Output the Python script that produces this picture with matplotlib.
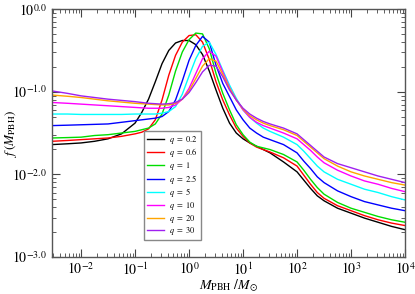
import matplotlib
matplotlib.use('Agg')
import matplotlib.pyplot as plt
import numpy as np

plt.rcParams['mathtext.fontset'] = 'stix'
plt.rcParams['font.family'] = ['STIXGeneral', 'DejaVu Serif']

# log10(M_PBH / M_sun) sample points
log_m = [-2.54, -2.25, -2.0, -1.75, -1.5, -1.25, -1.0, -0.875, -0.75, -0.625,
         -0.5, -0.375, -0.25, -0.125, 0.0, 0.125, 0.25, 0.375, 0.5, 0.625,
         0.75, 0.875, 1.0, 1.125, 1.25, 1.375, 1.5, 1.75, 2.0, 2.125,
         2.25, 2.375, 2.5, 2.75, 3.0, 3.25, 3.5, 3.75, 4.0]

# log10 f(M_PBH) for each q
f_q02 = [-1.64, -1.63, -1.62, -1.60, -1.57, -1.51, -1.38, -1.25, -1.09, -0.88,
         -0.66, -0.50, -0.41, -0.38, -0.38, -0.43, -0.55, -0.75, -0.98, -1.20,
         -1.38, -1.50, -1.57, -1.62, -1.66, -1.70, -1.74, -1.85, -1.97, -2.07,
         -2.17, -2.26, -2.32, -2.41, -2.47, -2.53, -2.58, -2.63, -2.67]
f_q06 = [-1.60, -1.59, -1.58, -1.57, -1.56, -1.54, -1.51, -1.49, -1.45, -1.34,
         -1.10, -0.80, -0.56, -0.40, -0.32, -0.31, -0.40, -0.61, -0.88, -1.10,
         -1.28, -1.44, -1.54, -1.62, -1.67, -1.70, -1.73, -1.80, -1.90, -2.01,
         -2.12, -2.22, -2.29, -2.38, -2.44, -2.50, -2.55, -2.59, -2.62]
f_q1 = [-1.56, -1.555, -1.55, -1.53, -1.52, -1.50, -1.48, -1.46, -1.44, -1.39,
        -1.27, -1.04, -0.75, -0.52, -0.37, -0.29, -0.30, -0.48, -0.78, -1.02,
        -1.22, -1.40, -1.52, -1.61, -1.66, -1.68, -1.70, -1.76, -1.85, -1.95,
        -2.06, -2.16, -2.24, -2.34, -2.41, -2.46, -2.51, -2.55, -2.58]
f_q25 = [-1.41, -1.405, -1.40, -1.395, -1.39, -1.37, -1.35, -1.34, -1.33, -1.32,
         -1.30, -1.24, -1.10, -0.87, -0.62, -0.44, -0.33, -0.40, -0.68, -0.90,
         -1.06, -1.22, -1.34, -1.44, -1.50, -1.55, -1.58, -1.64, -1.74, -1.84,
         -1.93, -2.03, -2.10, -2.20, -2.27, -2.33, -2.37, -2.41, -2.44]
f_q5 = [-1.27, -1.27, -1.275, -1.275, -1.275, -1.275, -1.27, -1.27, -1.27, -1.27,
        -1.26, -1.24, -1.18, -1.03, -0.81, -0.60, -0.45, -0.40, -0.55, -0.74,
        -0.92, -1.08, -1.22, -1.31, -1.38, -1.44, -1.48, -1.55, -1.64, -1.72,
        -1.81, -1.90, -1.97, -2.06, -2.12, -2.18, -2.22, -2.27, -2.31]
f_q10 = [-1.13, -1.14, -1.15, -1.16, -1.17, -1.18, -1.19, -1.195, -1.20, -1.20,
         -1.20, -1.19, -1.16, -1.09, -0.96, -0.78, -0.60, -0.51, -0.57, -0.76,
         -0.95, -1.10, -1.22, -1.31, -1.37, -1.41, -1.44, -1.50, -1.57, -1.64,
         -1.71, -1.79, -1.86, -1.95, -2.02, -2.08, -2.12, -2.17, -2.21]
f_q20 = [-1.04, -1.055, -1.07, -1.09, -1.11, -1.125, -1.14, -1.145, -1.15, -1.155,
         -1.16, -1.16, -1.14, -1.09, -0.99, -0.84, -0.69, -0.60, -0.63, -0.79,
         -0.96, -1.10, -1.21, -1.29, -1.34, -1.38, -1.41, -1.46, -1.53, -1.60,
         -1.67, -1.74, -1.81, -1.90, -1.97, -2.02, -2.06, -2.10, -2.13]
f_q30 = [-0.99, -1.02, -1.05, -1.07, -1.09, -1.105, -1.12, -1.13, -1.14, -1.145,
         -1.15, -1.145, -1.13, -1.09, -1.01, -0.89, -0.76, -0.68, -0.69, -0.82,
         -0.98, -1.10, -1.20, -1.27, -1.32, -1.36, -1.39, -1.44, -1.51, -1.58,
         -1.65, -1.72, -1.79, -1.87, -1.92, -1.97, -2.02, -2.06, -2.10]

q_labels = ['0.2', '0.6', '1', '2.5', '5', '10', '20', '30']
series = [f_q02, f_q06, f_q1, f_q25, f_q5, f_q10, f_q20, f_q30]
colors = ['black', 'red', '#00dd00', 'blue', 'cyan', 'magenta', 'orange', '#a020f0']

fig = plt.figure(figsize=(4.15, 2.94), dpi=100)
ax = fig.add_axes([0.125, 0.126, 0.851, 0.843])

m = 10 ** np.array(log_m)
for lab, vals, col in zip(q_labels, series, colors):
    ax.plot(m, 10 ** np.array(vals), color=col, lw=1.0, label=f'$q\\ =\\ {lab}$')

ax.set_xscale('log')
ax.set_yscale('log')
ax.set_xlim(10 ** -2.54, 1e4)
ax.set_ylim(1e-3, 1e0)

ax.set_yticks([1e-3, 1e-2, 1e-1, 1e0])
ax.set_yticklabels(['$10^{-3.0}$', '$10^{-2.0}$', '$10^{-1.0}$', '$10^{0.0}$'])
ax.set_xticks([1e-2, 1e-1, 1e0, 1e1, 1e2, 1e3, 1e4])
ax.set_xticklabels(['$10^{-2}$', '$10^{-1}$', '$10^{0}$', '$10^{1}$',
                    '$10^{2}$', '$10^{3}$', '$10^{4}$'])

ax.tick_params(which='both', direction='in', top=True, right=True,
               labelsize=10, color='#444444')
ax.tick_params(axis='x', pad=3)
ax.tick_params(which='major', length=6)
ax.tick_params(which='minor', length=3)
for sp in ax.spines.values():
    sp.set_color('#555555')
    sp.set_linewidth(1.0)

ax.set_xlabel(r'$M_{\rm PBH}\ /M_{\odot}$', fontsize=10)
ax.set_ylabel(r'$f\,(M_{\rm PBH})$', fontsize=9.5)
ax.xaxis.set_label_coords(0.5, -0.082)
ax.yaxis.set_label_coords(-0.093, 0.5)

leg = ax.legend(loc='lower left', bbox_to_anchor=(0.262, 0.068), fontsize=6,
                handlelength=2.0, handletextpad=0.6, labelspacing=0.08,
                borderpad=0.35, borderaxespad=0.0,
                fancybox=False, framealpha=1, edgecolor='#888888')
leg.get_frame().set_linewidth(1.0)

fig.savefig('out.png', dpi=100)
